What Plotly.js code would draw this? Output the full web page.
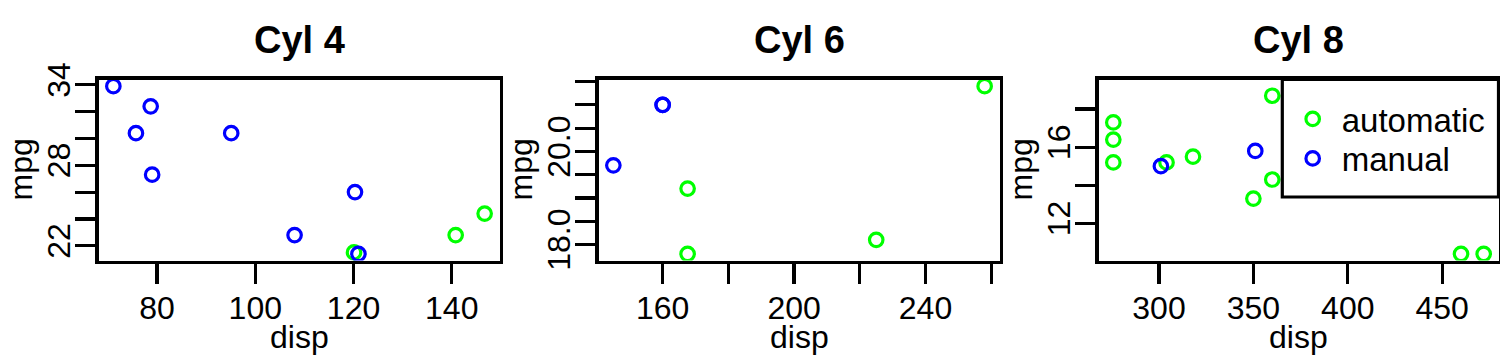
<!DOCTYPE html>
<html>
<head>
<meta charset="utf-8">
<script src="https://cdn.plot.ly/plotly-3.0.1.min.js"></script>
<style>html,body{margin:0;padding:0;background:#fff;}#chart{width:1500px;height:360px;}</style>
</head>
<body>
<div id="chart"></div>
<script>
// ---- data (mtcars: disp vs mpg, by cylinders and transmission) ----
const panelTitles = ["Cyl 4", "Cyl 6", "Cyl 8"];
const seriesNames = ["automatic", "manual"];
const xTitle = "disp", yTitle = "mpg";

const cyl4AutoDisp = [146.7, 140.8, 120.1];
const cyl4AutoMpg = [24.4, 22.8, 21.5];
const cyl4ManualDisp = [108, 78.7, 75.7, 71.1, 79.0, 120.3, 95.1, 121.0];
const cyl4ManualMpg = [22.8, 32.4, 30.4, 33.9, 27.3, 26.0, 30.4, 21.4];

const cyl6AutoDisp = [258, 225, 167.6, 167.6];
const cyl6AutoMpg = [21.4, 18.1, 19.2, 17.8];
const cyl6ManualDisp = [160, 160, 145];
const cyl6ManualMpg = [21.0, 21.0, 19.7];

const cyl8AutoDisp = [360, 360, 275.8, 275.8, 275.8, 472, 460, 440, 318, 304, 350, 400];
const cyl8AutoMpg = [18.7, 14.3, 16.4, 17.3, 15.2, 10.4, 10.4, 14.7, 15.5, 15.2, 13.3, 19.2];
const cyl8ManualDisp = [351, 301];
const cyl8ManualMpg = [15.8, 15.0];

// tick positions and labels
const x1Ticks = [80, 100, 120, 140];
const x1Labels = ["80", "100", "120", "140"];
const y1Ticks = [22, 24, 26, 28, 30, 32, 34];
const y1Labels = ["22", "", "", "28", "", "", "34"];
const x2Ticks = [160, 180, 200, 220, 240, 260];
const x2Labels = ["160", "", "200", "", "240", ""];
const y2Ticks = [18.0, 18.5, 19.0, 19.5, 20.0, 20.5, 21.0, 21.5];
const y2Labels = ["18.0", "", "", "", "20.0", "", "", ""];
const x3Ticks = [300, 350, 400, 450];
const x3Labels = ["300", "350", "400", "450"];
const y3Ticks = [12, 14, 16, 18];
const y3Labels = ["12", "", "16", ""];

// ---- styling ----
const GREEN = "#00FF00", BLUE = "#0000FF";
const FONT = "Liberation Sans, Arial, Helvetica, sans-serif";
const FS = 32;
const LW = 3.2;

function rRange(a, b) {
  const all = a.concat(b);
  const lo = Math.min(...all), hi = Math.max(...all);
  const pad = 0.04 * (hi - lo);
  return [lo - pad, hi + pad];
}

const panels = [
  {ad: cyl4AutoDisp, am: cyl4AutoMpg, md: cyl4ManualDisp, mm: cyl4ManualMpg,
   xt: x1Ticks, xl: x1Labels, yt: y1Ticks, yl: y1Labels},
  {ad: cyl6AutoDisp, am: cyl6AutoMpg, md: cyl6ManualDisp, mm: cyl6ManualMpg,
   xt: x2Ticks, xl: x2Labels, yt: y2Ticks, yl: y2Labels},
  {ad: cyl8AutoDisp, am: cyl8AutoMpg, md: cyl8ManualDisp, mm: cyl8ManualMpg,
   xt: x3Ticks, xl: x3Labels, yt: y3Ticks, yl: y3Labels}
];

const W = 1500, H = 360;
const leftPx = [98.5, 598.5, 1098.5];
const rightPx = [499.5, 999.5, 1498.5];
const topPx = 79.5, botPx = 260.5;

const legendFont = {family: FONT, size: 33, color: "#000"};
const legendBase = {x: 1283.7 / W, xanchor: "left", yanchor: "middle",
  bgcolor: "rgba(0,0,0,0)", borderwidth: 0, font: legendFont, itemwidth: 48};

const traces = [];
const layout = {
  width: W, height: H,
  margin: {l: 0, r: 0, t: 0, b: 0, pad: 0},
  paper_bgcolor: "#fff", plot_bgcolor: "#fff",
  font: {family: FONT, size: FS, color: "#000"},
  showlegend: true,
  legend: Object.assign({}, legendBase, {y: 1 - 119 / H}),
  legend2: Object.assign({}, legendBase, {y: 1 - 158.5 / H}),
  shapes: [{type: "rect", xref: "paper", yref: "paper", layer: "above",
    x0: 1282.3 / W, x1: 1498.5 / W, y0: 1 - 197 / H, y1: 1 - topPx / H,
    fillcolor: "#fff", line: {color: "#000", width: LW}}],
  annotations: []
};

const titleFont = {family: FONT, size: FS, color: "#000"};

panels.forEach((p, i) => {
  const n = i + 1;
  const xa = "x" + (n === 1 ? "" : n), ya = "y" + (n === 1 ? "" : n);
  const mk = (c) => ({symbol: "circle-open", size: 13.5, color: c, line: {color: c, width: 3.2}});
  traces.push({type: "scatter", mode: "markers", x: p.ad, y: p.am, xaxis: xa, yaxis: ya,
    name: seriesNames[0], legend: "legend", showlegend: n === 3, marker: mk(GREEN), hoverinfo: "x+y"});
  traces.push({type: "scatter", mode: "markers", x: p.md, y: p.mm, xaxis: xa, yaxis: ya,
    name: seriesNames[1], legend: "legend2", showlegend: n === 3, marker: mk(BLUE), hoverinfo: "x+y"});

  const axCommon = {
    showgrid: false, zeroline: false, showline: true, mirror: true,
    linecolor: "#000", linewidth: LW, ticks: "outside", ticklen: 20,
    tickwidth: LW, tickcolor: "#000", tickmode: "array",
    tickfont: {family: FONT, size: FS, color: "#000"}, automargin: false
  };
  layout["xaxis" + (n === 1 ? "" : n)] = Object.assign({}, axCommon, {
    domain: [leftPx[i] / W, rightPx[i] / W], anchor: ya,
    range: rRange(p.ad, p.md), tickvals: p.xt, ticktext: p.xl, tickangle: 0,
    ticklabelstandoff: -3
  });
  layout["yaxis" + (n === 1 ? "" : n)] = Object.assign({}, axCommon, {
    domain: [1 - botPx / H, 1 - topPx / H], anchor: xa,
    range: rRange(p.am, p.mm), tickvals: p.yt, ticktext: p.yl, tickangle: -90,
    ticklabelstandoff: -7
  });
  // panel title
  layout.annotations.push({
    text: "<b>" + panelTitles[i] + "</b>", xref: xa + " domain", yref: "paper",
    x: 0.5, y: 1 - 40 / H, xanchor: "center", yanchor: "middle", showarrow: false,
    font: {family: FONT, size: 38, color: "#000"}
  });
  // x axis title
  layout.annotations.push({
    text: xTitle, xref: xa + " domain", yref: "paper",
    x: 0.5, y: 1 - 337 / H, xanchor: "center", yanchor: "middle", showarrow: false,
    font: titleFont
  });
  // y axis title
  layout.annotations.push({
    text: yTitle, xref: "paper", yref: ya + " domain", textangle: -90,
    x: (leftPx[i] - 98.5 + 20.5) / W, y: 0.5, xanchor: "center", yanchor: "middle",
    showarrow: false, font: titleFont
  });
});

Plotly.newPlot("chart", traces, layout, {displayModeBar: false, staticPlot: true});
</script>
</body>
</html>
